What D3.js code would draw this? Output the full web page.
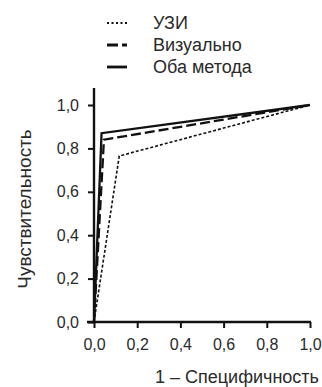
<!DOCTYPE html>
<html><head><meta charset="utf-8">
<script src="https://cdn.jsdelivr.net/npm/d3@7"></script>
<style>html,body{margin:0;padding:0;background:#fff;}svg{display:block;font-family:"Liberation Sans",Arial,sans-serif;}</style>
</head><body>
<svg id="c" width="322" height="387"></svg>
<script>
const seriesNames = ["УЗИ", "Визуально", "Оба метода"];
const uziX = [0, 0.117, 1];
const uziY = [0, 0.765, 1];
const visX = [0, 0.046, 1];
const visY = [0, 0.84, 1];
const bothX = [0, 0.035, 1];
const bothY = [0, 0.87, 1];
const tickValues = [0, 0.2, 0.4, 0.6, 0.8, 1.0];
const tickLabels = ["0,0", "0,2", "0,4", "0,6", "0,8", "1,0"];
const xTitle = "1 – Специфичность";
const yTitle = "Чувствительность";

const svg = d3.select("#c");
const x = d3.scaleLinear().domain([0, 1]).range([94, 310]);
const y = d3.scaleLinear().domain([0, 1]).range([322, 105]);
const fmt = d => tickLabels[tickValues.indexOf(d)];

const styles = [
  {dash: "3,2", w: 1.6},
  {dash: "10,4", w: 2.3},
  {dash: null, w: 2.3}
];
const series = [
  {name: seriesNames[0], xs: uziX, ys: uziY, s: styles[0]},
  {name: seriesNames[1], xs: visX, ys: visY, s: styles[1]},
  {name: seriesNames[2], xs: bothX, ys: bothY, s: styles[2]}
];

// axes
const xAxis = d3.axisBottom(x).tickValues(tickValues).tickFormat(fmt).tickSizeInner(6).tickSizeOuter(0).tickPadding(11);
const yAxis = d3.axisLeft(y).tickValues(tickValues).tickFormat(fmt).tickSizeInner(6).tickSizeOuter(0).tickPadding(9);
const gx = svg.append("g").attr("transform", "translate(0,322)").call(xAxis);
const gy = svg.append("g").attr("transform", "translate(94,0)").call(yAxis);
[gx, gy].forEach(g => {
  g.select(".domain").remove();
  g.selectAll(".tick line").attr("stroke", "#111").attr("stroke-width", 2);
  g.selectAll(".tick text").attr("fill", "#2a2a2a").style("font-size", "16px").style("font-family", '"Liberation Sans",Arial,sans-serif');
});
svg.append("line").attr("x1", 87).attr("x2", 311).attr("y1", 322).attr("y2", 322).attr("stroke", "#111").attr("stroke-width", 2.4);
svg.append("line").attr("x1", 94).attr("x2", 94).attr("y1", 88).attr("y2", 323).attr("stroke", "#111").attr("stroke-width", 2.4);

// lines
const line = d3.line().x(d => x(d[0])).y(d => y(d[1]));
series.forEach(sr => {
  const pts = sr.xs.map((v, i) => [v, sr.ys[i]]);
  svg.append("path").datum(pts).attr("d", line).attr("fill", "none")
    .attr("stroke", "#111").attr("stroke-width", sr.s.w)
    .attr("stroke-dasharray", sr.s.dash).attr("stroke-linejoin", "miter");
});

// legend
const legY = [23, 45, 67];
series.forEach((sr, i) => {
  svg.append("line").attr("x1", 107).attr("x2", 127).attr("y1", legY[i]).attr("y2", legY[i])
    .attr("stroke", "#111").attr("stroke-width", i === 0 ? 2 : 2.8)
    .attr("stroke-dasharray", i === 0 ? "2,2.5" : (i === 1 ? "11,4" : null));
  svg.append("text").attr("x", 153).attr("y", legY[i]).attr("dy", "0.35em")
    .attr("fill", "#2a2a2a").style("font-size", "18px").text(sr.name);
});

// titles
svg.append("text").attr("x", 319).attr("y", 377).attr("dy", "0.35em").attr("text-anchor", "end")
  .attr("fill", "#2a2a2a").style("font-size", "18px").text(xTitle);
svg.append("text").attr("transform", "translate(24,209) rotate(-90)").attr("dy", "0.35em").attr("text-anchor", "middle")
  .attr("fill", "#2a2a2a").style("font-size", "19px").text(yTitle);
</script>
</body></html>
